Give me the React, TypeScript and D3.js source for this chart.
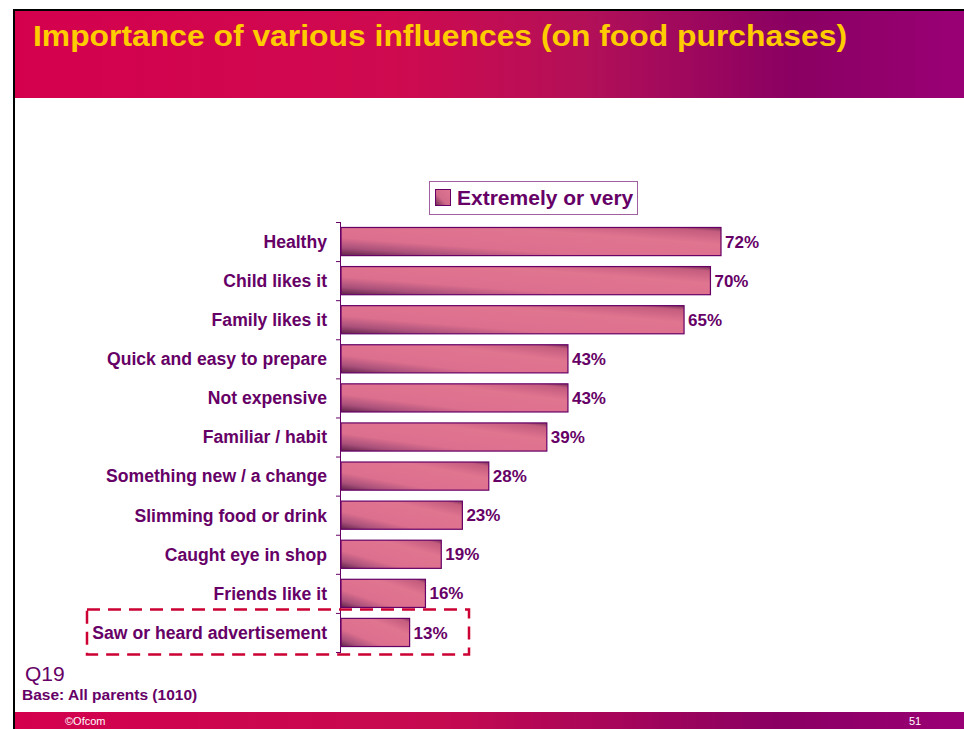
import React from "react";
import * as d3 from "d3";

const categories = [
  "Healthy",
  "Child likes it",
  "Family likes it",
  "Quick and easy to prepare",
  "Not expensive",
  "Familiar / habit",
  "Something new / a change",
  "Slimming food or drink",
  "Caught eye in shop",
  "Friends like it",
  "Saw or heard advertisement",
];
const values = [72, 70, 65, 43, 43, 39, 28, 23, 19, 16, 13];
const seriesName = "Extremely or very";
const title = "Importance of various influences (on food purchases)";

const W = 964;
const H = 729;
const PURPLE = "#660066";
const FONT = "'Liberation Sans', Arial, sans-serif";

export default function App() {
  const x = d3.scaleLinear().domain([0, 72]).range([341, 721]);
  const y = d3
    .scaleBand<string>()
    .domain(categories)
    .range([222, 652])
    .paddingInner(0.28)
    .paddingOuter(0.14);
  const step = y.step();
  const y0 = 222;
  const boundaries = d3.range(categories.length + 1).map((i) => y0 + i * step);
  const last = categories[categories.length - 1];
  const lastY = y(last)!;

  return (
    <svg
      width={W}
      height={H}
      style={{ position: "absolute", left: 0, top: 0, display: "block" }}
      fontFamily={FONT}
    >
      <defs>
        <linearGradient id="hdr" x1="0" y1="0" x2="1" y2="0">
          <stop offset="0" stopColor="#d4004e" />
          <stop offset="0.4" stopColor="#cf0a4f" />
          <stop offset="0.6" stopColor="#b31058" />
          <stop offset="0.82" stopColor="#8a0062" />
          <stop offset="1" stopColor="#9a0075" />
        </linearGradient>
        <linearGradient id="ftr" x1="0" y1="0" x2="1" y2="0">
          <stop offset="0" stopColor="#d4004e" />
          <stop offset="0.45" stopColor="#c50a50" />
          <stop offset="0.8" stopColor="#8a0062" />
          <stop offset="1" stopColor="#9a0075" />
        </linearGradient>
        <linearGradient id="bar" x1="0" y1="1" x2="1" y2="0">
          <stop offset="0" stopColor="#5e2248" />
          <stop offset="0.14" stopColor="#a9507a" />
          <stop offset="0.32" stopColor="#dc6f8e" />
          <stop offset="0.7" stopColor="#e07590" />
          <stop offset="0.92" stopColor="#c45c7e" />
          <stop offset="1" stopColor="#763058" />
        </linearGradient>
        <linearGradient id="sw" x1="0" y1="1" x2="1" y2="0">
          <stop offset="0" stopColor="#6a2850" />
          <stop offset="0.4" stopColor="#d06a8a" />
          <stop offset="1" stopColor="#e07590" />
        </linearGradient>
      </defs>

      <rect x={0} y={0} width={W} height={H} fill="#ffffff" />
      {/* header */}
      <rect x={15} y={11} width={W - 15} height={87} fill="url(#hdr)" />
      <rect x={13} y={9} width={W - 13} height={2} fill="#000" />
      <rect x={13} y={9} width={2} height={H - 9} fill="#000" />
      <text
        x={33}
        y={46}
        fill="#ffcc00"
        fontSize={30}
        fontWeight="bold"
        textLength={814}
        lengthAdjust="spacingAndGlyphs"
      >
        {title}
      </text>

      {/* legend */}
      <rect x={429.5} y={181.5} width={208} height={33} fill="#fff" stroke="#a060a0" strokeWidth={1} />
      <rect x={435.5} y={189.5} width={15} height={16} fill="url(#sw)" stroke={PURPLE} strokeWidth={1} />
      <text x={457} y={205} fill={PURPLE} fontSize={21} fontWeight="bold">
        {seriesName}
      </text>

      {/* bars */}
      {categories.map((c, i) => (
        <g key={c}>
          <rect
            x={x(0)}
            y={y(c)!}
            width={x(values[i]) - x(0)}
            height={y.bandwidth()}
            fill="url(#bar)"
            stroke={PURPLE}
            strokeWidth={1.2}
          />
          <text
            x={x(values[i]) + 4}
            y={y(c)! + y.bandwidth() / 2}
            dy="0.36em"
            fill={PURPLE}
            fontSize={17}
            fontWeight="bold"
          >
            {values[i]}%
          </text>
          <text
            x={327}
            y={y(c)! + y.bandwidth() / 2}
            dy="0.36em"
            textAnchor="end"
            fill={PURPLE}
            fontSize={17.6}
            fontWeight="bold"
          >
            {c}
          </text>
        </g>
      ))}

      {/* axis */}
      <line x1={340.5} x2={340.5} y1={y0} y2={y0 + step * categories.length} stroke={PURPLE} strokeWidth={1} />
      {boundaries.map((b, i) => (
        <line key={i} x1={336} x2={341} y1={b + 0.5} y2={b + 0.5} stroke={PURPLE} strokeWidth={1} />
      ))}

      {/* highlight box */}
      <rect
        x={87}
        y={lastY - 9}
        width={382}
        height={y.bandwidth() + 17}
        fill="none"
        stroke="#cc0033"
        strokeWidth={2.5}
        strokeDasharray="13 8"
      />

      {/* notes */}
      <text x={25} y={681} fill={PURPLE} fontSize={21}>
        Q19
      </text>
      <text x={22} y={700} fill={PURPLE} fontSize={15.5} fontWeight="bold">
        Base: All parents (1010)
      </text>

      {/* footer */}
      <rect x={15} y={712} width={W - 15} height={17} fill="url(#ftr)" />
      <text x={65} y={725} fill="#fff" fontSize={11}>
        ©Ofcom
      </text>
      <text x={909} y={725} fill="#fff" fontSize={11}>
        51
      </text>
    </svg>
  );
}
